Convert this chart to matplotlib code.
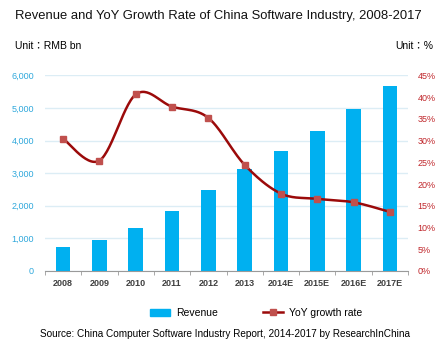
import numpy as np
import matplotlib.pyplot as plt
from matplotlib.lines import Line2D
from matplotlib.patches import Patch
from matplotlib.ticker import FuncFormatter

plt.rcParams['font.family'] = ['Liberation Sans', 'Noto Sans CJK TC', 'DejaVu Sans']

years = ['2008', '2009', '2010', '2011', '2012', '2013',
         '2014E', '2015E', '2016E', '2017E']
revenue = [745, 940, 1330, 1840, 2485, 3120, 3680, 4285, 4970, 5675]
growth = [30.4, 25.4, 40.6, 37.8, 35.2, 24.4, 17.8, 16.6, 15.8, 13.6]

bar_color = '#00b0f0'
line_color = '#9b0a0a'
marker_color = '#c0504d'


def smooth(xs, ys, n=30):
    # Catmull-Rom curve through the points, like a smoothed office chart line
    pts = np.column_stack([xs, ys]).astype(float)
    pts = np.vstack([pts[0], pts, pts[-1]])
    out = []
    for i in range(1, len(pts) - 2):
        p0, p1, p2, p3 = pts[i - 1], pts[i], pts[i + 1], pts[i + 2]
        t = np.linspace(0, 1, n)[:, None]
        seg = 0.5 * ((2 * p1) + (-p0 + p2) * t
                     + (2 * p0 - 5 * p1 + 4 * p2 - p3) * t ** 2
                     + (-p0 + 3 * p1 - 3 * p2 + p3) * t ** 3)
        out.append(seg)
    out = np.vstack(out)
    return out[:, 0], out[:, 1]


fig = plt.figure(figsize=(4.47, 3.48), dpi=100)
ax = fig.add_axes([45 / 447, 77 / 348, 363 / 447, 195.7 / 348])
x = np.arange(len(years))

ax.bar(x, revenue, width=0.4, color=bar_color, zorder=2)
ax.set_xlim(-0.5, len(years) - 0.5)
ax.set_ylim(0, 6000)
ax.set_yticks(range(0, 6001, 1000))
ax.yaxis.set_major_formatter(FuncFormatter(lambda v, p: f'{int(v):,}'))
ax.grid(axis='y', color='#dcedf5', linewidth=1, zorder=0)
ax.set_axisbelow(True)
for side in ['top', 'right', 'left']:
    ax.spines[side].set_visible(False)
ax.spines['bottom'].set_color('#9a9a9a')
ax.tick_params(axis='y', length=0, pad=8, labelsize=6.5, labelcolor='#2fa8dc')
ax.set_xticks(x)
ax.set_xticklabels(years, fontsize=6.5, color='#404040', fontweight='bold')
ax.tick_params(axis='x', length=0, pad=6)
ax.set_xticks(np.arange(-0.5, len(years)), minor=True)
ax.tick_params(axis='x', which='minor', length=3, color='#9a9a9a')

ax2 = ax.twinx()
sx, sy = smooth(x, growth)
ax2.plot(sx, sy, color=line_color, linewidth=1.8, zorder=3)
ax2.plot(x, growth, linestyle='none', marker='s', markersize=5,
         color=marker_color, zorder=4)
ax2.set_ylim(0, 45)
ax2.set_yticks(range(0, 46, 5))
ax2.yaxis.set_major_formatter(FuncFormatter(lambda v, p: f'{int(v)}%'))
ax2.tick_params(axis='y', length=0, pad=7, labelsize=6.5, labelcolor='#c0262b')
for side in ['top', 'right', 'left', 'bottom']:
    ax2.spines[side].set_visible(False)

fig.text(15 / 447, 1 - 16 / 348,
         'Revenue and YoY Growth Rate of China Software Industry, 2008-2017',
         fontsize=9.4, color='#111111', va='center', ha='left')
fig.text(15 / 447, 1 - 46 / 348, 'Unit：RMB bn', fontsize=7.5,
         va='center', ha='left')
fig.text(433 / 447, 1 - 46 / 348, 'Unit：%', fontsize=7.5,
         va='center', ha='right')

handles = [Patch(color=bar_color),
           Line2D([], [], color=line_color, linewidth=1.8, marker='s',
                  markersize=5, markerfacecolor=marker_color,
                  markeredgecolor=marker_color)]
fig.legend(handles, ['Revenue', 'YoY growth rate'], loc='center',
           bbox_to_anchor=(256 / 447, 1 - 313 / 348), ncol=2, frameon=False,
           fontsize=7.5, handlelength=1.9, columnspacing=4.3, handletextpad=0.6)

fig.text(225 / 447, 1 - 334 / 348,
         'Source: China Computer Software Industry Report, 2014-2017 by ResearchInChina',
         fontsize=7.2, va='center', ha='center')

fig.savefig('out.png', dpi=100)
